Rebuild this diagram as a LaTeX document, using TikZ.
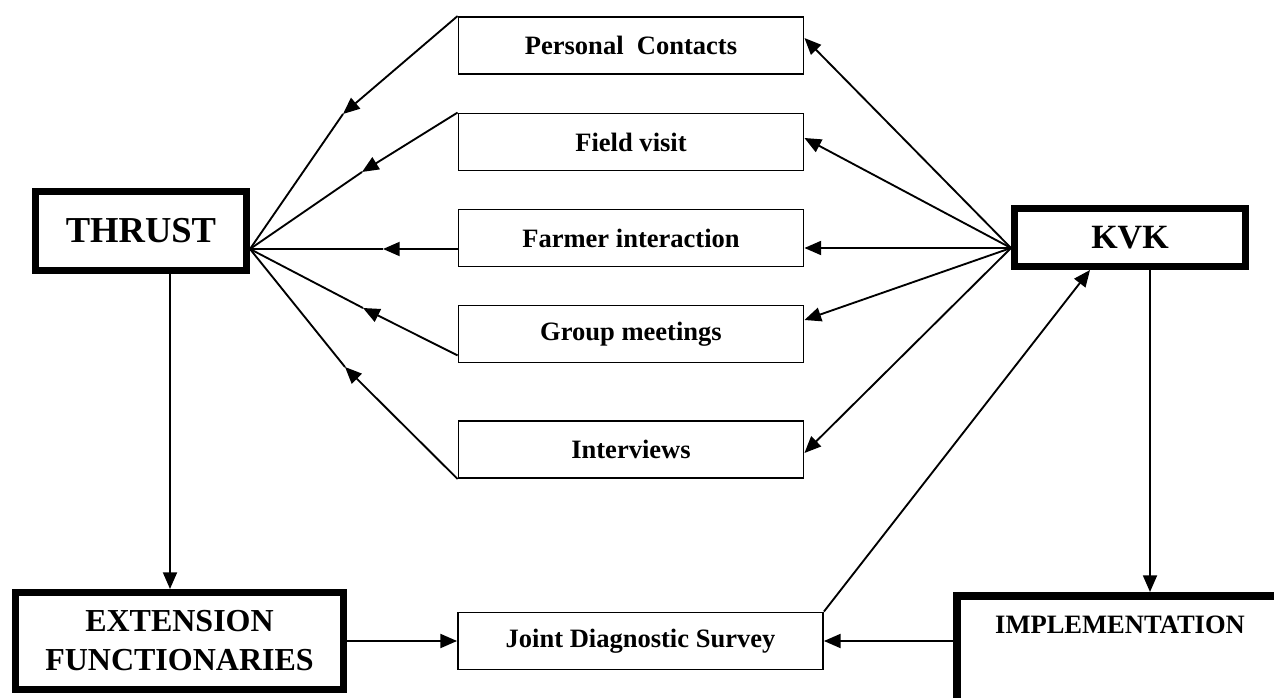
\documentclass[tikz,border=0pt]{standalone}
\usepackage{fontspec}
\setmainfont{Liberation Serif}
\usetikzlibrary{arrows.meta,calc}
\begin{document}
\begin{tikzpicture}[x=0.75pt,y=-0.75pt,
  thinbox/.style={draw, line width=1.4pt, minimum width=258.75pt, minimum height=42.75pt, inner sep=0pt, font=\bfseries\fontsize{19.9}{24}\selectfont},
  thickbox/.style={draw, line width=5.25pt, inner sep=0pt},
  conn/.style={line width=1.4pt},
  arr/.style={conn, -{Triangle[length=12.5pt,width=10.5pt]}}
]
\fill[white] (0,0) rectangle (1274,698);
\useasboundingbox (0,0) rectangle (1274,698);
\clip (0,0) rectangle (1274,698);

% main boxes
\node[thickbox, minimum width=158.25pt, minimum height=59.25pt, font=\bfseries\fontsize{27.4}{32}\selectfont] (thrust) at (141,231) {THRUST};
\node[thickbox, minimum width=173.25pt, minimum height=43.5pt, font=\bfseries\fontsize{25.5}{30}\selectfont] (kvk) at (1130,237.5) {KVK};
\node[thickbox, minimum width=246pt, minimum height=72.75pt, align=center, font=\bfseries\fontsize{24}{29.25}\selectfont] (ext) at (179.5,641) {EXTENSION\\FUNCTIONARIES};
\node[thickbox, line width=6pt, minimum width=300pt, minimum height=120pt, anchor=north west] (impl) at (953,592) {};
\node[font=\bfseries\fontsize{19.9}{24}\selectfont] (implt) at (1120,625) {IMPLEMENTATION};

% middle boxes
\node[thinbox] (pc) at (631,45.5) {Personal~~Contacts};
\node[thinbox] (fv) at (631,142) {Field visit};
\node[thinbox] (fi) at (631,238) {Farmer interaction};
\node[thinbox] (gm) at (631,334) {Group meetings};
\node[thinbox] (iv) at (631,449.5) {Interviews};
\node[thinbox, minimum width=273.75pt] (jds) at (640.5,641) {Joint Diagnostic Survey};

% junction points
\coordinate (T) at ($(thrust.east)+(0,18)$);
\coordinate (K) at ($(kvk.west)+(0,10.5)$);
\coordinate (k1) at (343,114);
\coordinate (k2) at (362,172);
\coordinate (k3) at (383,249);
\coordinate (k4) at (363,308);
\coordinate (k5) at (345,367);
\coordinate (tx) at (170,0);
\coordinate (kx) at (1150,0);

% methods -> THRUST
\draw[arr] (pc.north west) -- (k1);
\draw[conn] (T) -- (k1);
\draw[arr] (fv.north west) -- (k2);
\draw[conn] (T) -- (k2);
\draw[arr] (fi.west |- k3) -- (k3);
\draw[conn] (T) -- (k3);
\draw[arr] ($(gm.south west)+(0,-8)$) -- (k4);
\draw[conn] (T) -- (k4);
\draw[arr] (iv.south west) -- (k5);
\draw[conn] (T) -- (k5);

% KVK -> methods
\draw[arr] (K) -- ($(pc.east)+(0,-7.5)$);
\draw[arr] (K) -- ($(fv.east)+(0,-4)$);
\draw[arr] (K) -- (fi.east |- K);
\draw[arr] (K) -- ($(gm.east)+(0,-14)$);
\draw[arr] (K) -- ($(iv.east)+(0,3.5)$);

% lower part
\draw[arr] (thrust.south -| tx) -- (ext.north -| tx);
\draw[arr] (kvk.south -| kx) -- (impl.north -| kx);
\draw[arr] (ext.east) -- (jds.west);
\draw[arr] (impl.west |- jds.east) -- (jds.east);
\draw[arr] (jds.north east) -- ($(kvk.south)+(-40,0)$);
\end{tikzpicture}
\end{document}
